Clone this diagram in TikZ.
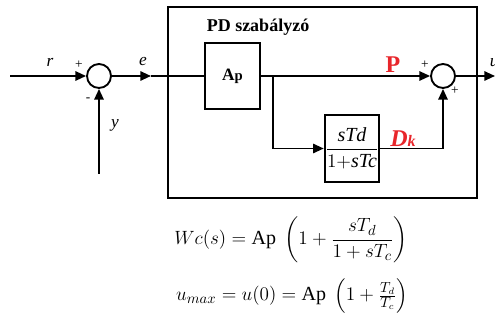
\documentclass[tikz,border=0pt]{standalone}
\usepackage{amsmath}
\usepackage{fontspec}
\setmainfont{Liberation Serif}
\usetikzlibrary{arrows.meta, positioning, calc}
\definecolor{pdred}{HTML}{E8262B}

\begin{document}
\begin{tikzpicture}[x=0.75pt, y=-0.75pt,
    line width=1.4pt,
    font=\fontsize{13}{15}\selectfont,
    arr/.style={-{Triangle[length=8pt, width=7pt]}},
    sumnode/.style={draw, circle, minimum size=18pt, inner sep=0pt},
    block/.style={draw, minimum width=41pt, minimum height=50pt, inner sep=0pt},
    sign/.style={font=\normalsize, inner sep=0pt}]
  \useasboundingbox (0,0) rectangle (495,320);
  % controller frame
  \node[draw, minimum width=231.75pt, minimum height=143.25pt, inner sep=0pt] (pd) at (322.5,102.5) {};
  \node[font=\fontsize{13.5}{15}\selectfont\bfseries] (title) at (258,27) {PD szabályzó};
  % blocks and summing points
  \node[sumnode] (s1) at (99,76) {};
  \node[sumnode] (s2) at (443,76) {};
  \node[block] (ap) at (232.5,76) {\textbf{A{\fontsize{11}{12}\selectfont p}}};
  \node[block, font=\fontsize{15}{17}\selectfont] (dk) at (352,148.5) {$\dfrac{\textit{sTd}}{1{+}\textit{sTc}}$};
  \coordinate (in) at (10,76);
  \coordinate (yin) at (99,174);
  \coordinate (emid) at (151,76);
  \coordinate (br) at (273,76);
  \coordinate (out) at (495,76);
  % connectors
  \draw[arr] (in) -- (s1);
  \draw[arr] (yin) -- (s1);
  \draw[arr] (s1) -- (emid);
  \draw (emid) -- (ap);
  \draw[arr] (ap) -- (s2);
  \draw[arr] (br) |- (dk);
  \draw[arr] (dk) -| (s2);
  \draw[arr] (s2) -- (out);
  % labels
  \node (r) at (50,62) {\textit{r}};
  \node (e) at (143,62) {\textit{e}};
  \node (y) at (115,125) {\textit{y}};
  \node[anchor=west, inner sep=0pt] (u) at (489,63) {\textit{u}};
  \node[sign] (p1) at (79,65) {+};
  \node[sign] (m1) at (88,100) {-};
  \node[sign] (p2) at (425,65) {+};
  \node[sign] (p3) at (455,91) {+};
  \node[font=\fontsize{18}{20}\selectfont\bfseries, text=pdred] (P) at (393,65) {P};
  \node[font=\fontsize{18}{20}\selectfont\bfseries\itshape, text=pdred] (D) at (403,139) {D{\fontsize{12}{14}\selectfont k}};
  % formulas
  \node[font=\fontsize{15}{18}\selectfont] (wc) at (291,240) {$Wc(s) = \mathrm{Ap}\ \left(1+\dfrac{sT_d}{1+sT_c}\right)$};
  \node[font=\fontsize{15}{18}\selectfont] (umax) at (292,296) {$u_{max} = u(0) = \mathrm{Ap}\ \left(1+\frac{T_d}{T_c}\right)$};
\end{tikzpicture}
\end{document}
